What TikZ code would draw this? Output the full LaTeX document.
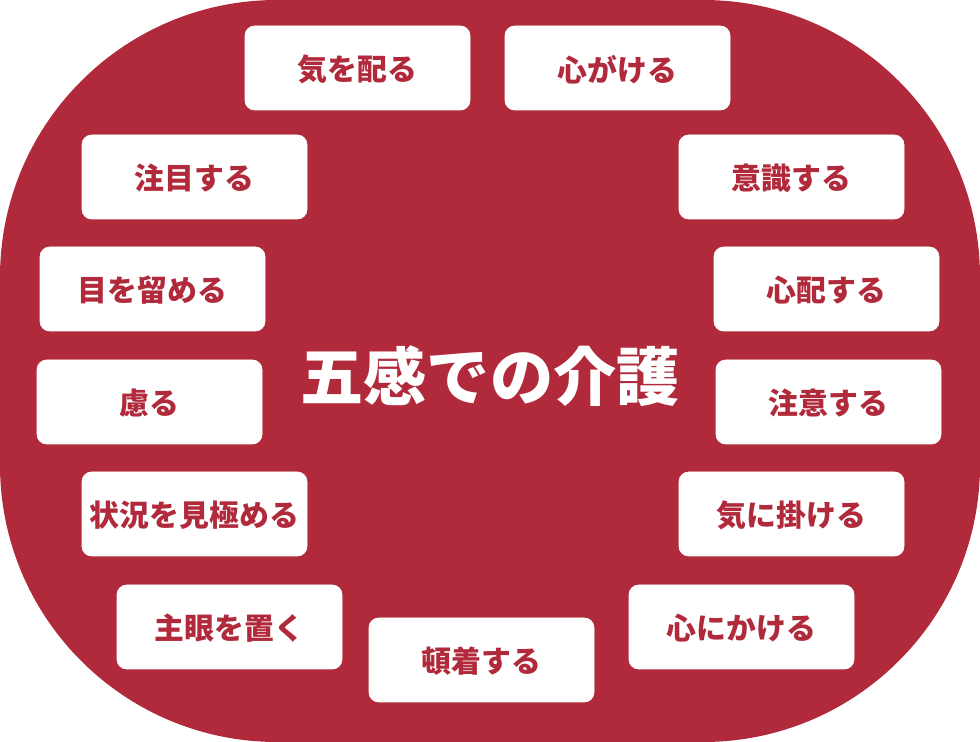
\documentclass[tikz,border=0pt]{standalone}
\usepackage{fontspec}
\newfontfamily\jpfont{Noto Sans CJK JP}
\usepackage{tikz}
\usepackage{xcolor}
\definecolor{kaigored}{HTML}{B12A3B}

\tikzset{
    wordbox/.style={fill=white, draw=white, rounded corners=5.5pt, minimum width=4.5cm, minimum height=1.68cm, text=kaigored, text depth=-0.06cm, font=\jpfont\bfseries\fontsize{17}{20}\selectfont},
    title/.style={text=white, font=\jpfont\bfseries\fontsize{36}{42}\selectfont}
}

\begin{document}
\begin{tikzpicture}
        \fill[kaigored, rounded corners=5.54cm] (0,0) rectangle (19.6,14.84);
        \useasboundingbox (0,0) rectangle (19.6,14.84);
        \node[title] (kaigo) at (9.8,7.32) {五感での介護};
        \foreach \i/\j/\k/\n in {7.15/13.48/気を配る/kubaru, 12.35/13.48/心がける/kokorogakeru, 3.89/11.30/注目する/chumoku, 15.83/11.30/意識する/ishiki, 3.05/9.06/目を留める/tomeru, 16.53/9.06/心配する/shinpai, 2.99/6.80/慮る/omonpakaru, 16.57/6.80/注意する/chui, 3.89/4.56/状況を見極める/mikiwameru, 15.83/4.56/気に掛ける/kinikakeru, 4.59/2.30/主眼を置く/shugan, 9.63/1.64/頓着する/tonchaku, 14.83/2.30/心にかける/kokoronikakeru}
        {
            \node[wordbox] (\n) at (\i, \j) {\k};
        }
    \end{tikzpicture}
\end{document}
